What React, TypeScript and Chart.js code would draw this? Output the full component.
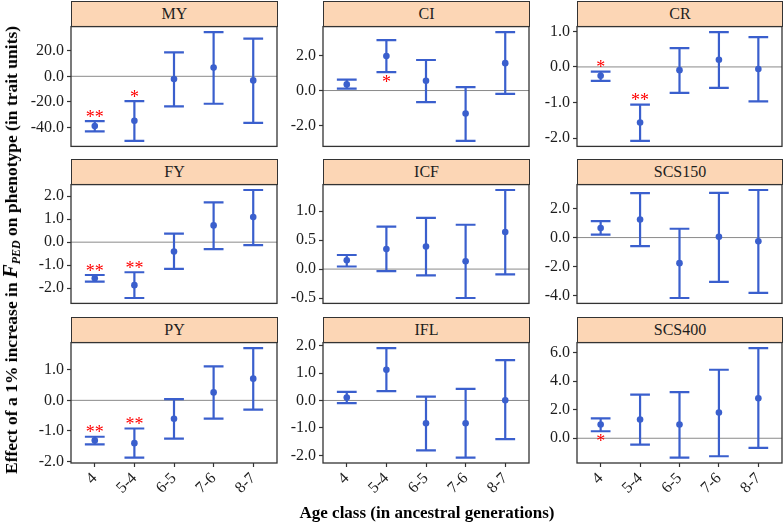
import React, { useEffect, useRef } from 'react';
import { Chart, registerables } from 'chart.js';
Chart.register(...registerables);

// ---------- data ----------
const CATEGORIES = ['4', '5-4', '6-5', '7-6', '8-7'];

const MY_EST = [-38.8, -34.7, -2.2, 6.8, -3.2];
const MY_LO = [-42.9, -50.4, -23.5, -21.4, -36.3];
const MY_HI = [-35.0, -19.4, 18.6, 34.5, 29.4];
const MY_TICKS = [-40, -20, 0, 20];
const MY_STARS = ['**', '*', '', '', ''];
const MY_SIDE = ['above', 'above', '', '', ''];

const CI_EST = [0.35, 1.97, 0.56, -1.31, 1.56];
const CI_LO = [0.11, 1.05, -0.66, -2.87, -0.19];
const CI_HI = [0.62, 2.87, 1.74, 0.19, 3.33];
const CI_TICKS = [-2, 0, 2];
const CI_STARS = ['', '*', '', '', ''];
const CI_SIDE = ['', 'below', '', '', ''];

const CR_EST = [-0.25, -1.56, -0.09, 0.2, -0.06];
const CR_LO = [-0.39, -2.08, -0.73, -0.59, -0.97];
const CR_HI = [-0.13, -1.06, 0.53, 0.98, 0.84];
const CR_TICKS = [-2, -1, 0, 1];
const CR_STARS = ['*', '**', '', '', ''];
const CR_SIDE = ['above', 'above', '', '', ''];

const FY_EST = [-1.57, -1.87, -0.41, 0.73, 1.09];
const FY_LO = [-1.72, -2.43, -1.16, -0.3, -0.13];
const FY_HI = [-1.43, -1.31, 0.37, 1.73, 2.27];
const FY_TICKS = [-2, -1, 0, 1, 2];
const FY_STARS = ['**', '**', '', '', ''];
const FY_SIDE = ['above', 'above', '', '', ''];

const ICF_EST = [0.153, 0.346, 0.392, 0.136, 0.642];
const ICF_LO = [0.045, -0.034, -0.108, -0.5, -0.091];
const ICF_HI = [0.244, 0.733, 0.886, 0.767, 1.368];
const ICF_TICKS = [-0.5, 0, 0.5, 1];
const ICF_STARS = ['', '', '', '', ''];
const ICF_SIDE = ['', '', '', '', ''];

const SCS150_EST = [0.66, 1.25, -1.77, 0.05, -0.25];
const SCS150_LO = [0.2, -0.59, -4.18, -3.07, -3.82];
const SCS150_HI = [1.14, 3.07, 0.61, 3.09, 3.29];
const SCS150_TICKS = [-4, -2, 0, 2];
const SCS150_STARS = ['', '', '', '', ''];
const SCS150_SIDE = ['', '', '', '', ''];

const PY_EST = [-1.31, -1.4, -0.6, 0.26, 0.71];
const PY_LO = [-1.44, -1.87, -1.25, -0.6, -0.3];
const PY_HI = [-1.19, -0.92, 0.04, 1.11, 1.71];
const PY_TICKS = [-2, -1, 0, 1];
const PY_STARS = ['**', '**', '', '', ''];
const PY_SIDE = ['above', 'above', '', '', ''];

const IFL_EST = [0.11, 1.12, -0.83, -0.83, 0.01];
const IFL_LO = [-0.1, 0.34, -1.82, -2.08, -1.41];
const IFL_HI = [0.31, 1.91, 0.14, 0.42, 1.47];
const IFL_TICKS = [-2, -1, 0, 1, 2];
const IFL_STARS = ['', '', '', '', ''];
const IFL_SIDE = ['', '', '', '', ''];

const SCS400_EST = [0.96, 1.31, 0.96, 1.8, 2.8];
const SCS400_LO = [0.49, -0.44, -1.35, -1.26, -0.67];
const SCS400_HI = [1.4, 3.06, 3.24, 4.8, 6.32];
const SCS400_TICKS = [0, 2, 4, 6];
const SCS400_STARS = ['*', '', '', '', ''];
const SCS400_SIDE = ['below', '', '', '', ''];

type PanelData = {
  name: string; est: number[]; lo: number[]; hi: number[];
  ticks: number[]; stars: string[]; side: string[];
};

const PANELS: PanelData[] = [
  { name: 'MY', est: MY_EST, lo: MY_LO, hi: MY_HI, ticks: MY_TICKS, stars: MY_STARS, side: MY_SIDE },
  { name: 'CI', est: CI_EST, lo: CI_LO, hi: CI_HI, ticks: CI_TICKS, stars: CI_STARS, side: CI_SIDE },
  { name: 'CR', est: CR_EST, lo: CR_LO, hi: CR_HI, ticks: CR_TICKS, stars: CR_STARS, side: CR_SIDE },
  { name: 'FY', est: FY_EST, lo: FY_LO, hi: FY_HI, ticks: FY_TICKS, stars: FY_STARS, side: FY_SIDE },
  { name: 'ICF', est: ICF_EST, lo: ICF_LO, hi: ICF_HI, ticks: ICF_TICKS, stars: ICF_STARS, side: ICF_SIDE },
  { name: 'SCS150', est: SCS150_EST, lo: SCS150_LO, hi: SCS150_HI, ticks: SCS150_TICKS, stars: SCS150_STARS, side: SCS150_SIDE },
  { name: 'PY', est: PY_EST, lo: PY_LO, hi: PY_HI, ticks: PY_TICKS, stars: PY_STARS, side: PY_SIDE },
  { name: 'IFL', est: IFL_EST, lo: IFL_LO, hi: IFL_HI, ticks: IFL_TICKS, stars: IFL_STARS, side: IFL_SIDE },
  { name: 'SCS400', est: SCS400_EST, lo: SCS400_LO, hi: SCS400_HI, ticks: SCS400_TICKS, stars: SCS400_STARS, side: SCS400_SIDE },
];

// ---------- layout / style ----------
const FONT = "'Liberation Serif', serif";
const BLUE = '#3A5FCD';
const STRIP_BG = '#FCD6B5';
const DARK = '#333333';
const ZERO = '#8a8a8a';
const TEXT = '#1e1e1e';

Chart.defaults.font.family = FONT;

const COLS = [[71, 277], [323, 529], [577, 782]];
const ROWS = [[1, 26, 147], [159, 184, 304], [317, 342, 463]];
const PAD_L = 2, Y_W = 60, PAD_R = 16, PAD_T = 12, PAD_B = 12, X_H = 50;

function makePlugin(p: PanelData) {
  return {
    id: 'errbars_' + p.name,
    beforeDatasetsDraw(chart: any) {
      const { ctx, chartArea: a, scales } = chart;
      const x = scales.x, y = scales.y;
      ctx.save();
      const y0 = y.getPixelForValue(0);
      ctx.strokeStyle = ZERO;
      ctx.lineWidth = 1;
      ctx.beginPath();
      ctx.moveTo(a.left, y0);
      ctx.lineTo(a.right, y0);
      ctx.stroke();
      ctx.strokeStyle = BLUE;
      ctx.lineWidth = 2.2;
      p.est.forEach((_, i) => {
        const px = x.getPixelForValue(i + 1);
        const cl = x.getPixelForValue(i + 1 - 0.25);
        const cr = x.getPixelForValue(i + 1 + 0.25);
        const pl = y.getPixelForValue(p.lo[i]);
        const ph = y.getPixelForValue(p.hi[i]);
        ctx.beginPath();
        ctx.moveTo(px, pl); ctx.lineTo(px, ph);
        ctx.moveTo(cl, pl); ctx.lineTo(cr, pl);
        ctx.moveTo(cl, ph); ctx.lineTo(cr, ph);
        ctx.stroke();
      });
      ctx.restore();
    },
    afterDraw(chart: any) {
      const { ctx, chartArea: a, scales } = chart;
      const x = scales.x, y = scales.y;
      ctx.save();
      ctx.strokeStyle = DARK;
      ctx.lineWidth = 1.3;
      ctx.strokeRect(a.left, a.top, a.right - a.left, a.bottom - a.top);
      ctx.fillStyle = '#FF0000';
      ctx.font = '18px ' + FONT;
      ctx.textAlign = 'center';
      ctx.textBaseline = 'alphabetic';
      p.stars.forEach((s, i) => {
        if (!s) return;
        const px = x.getPixelForValue(i + 1);
        if (p.side[i] === 'above') {
          ctx.fillText(s, px, y.getPixelForValue(p.hi[i]) + 1.5);
        } else {
          ctx.fillText(s, px, y.getPixelForValue(p.lo[i]) + 15.5);
        }
      });
      ctx.restore();
    },
  };
}

function PanelChart({ p, row, col }: { p: PanelData; row: number; col: number }) {
  const ref = useRef<HTMLCanvasElement>(null);
  const bottomRow = row === 2;
  const [x0, x1] = COLS[col];
  const [, pt, pb] = ROWS[row];
  const left = x0 - PAD_L - Y_W;
  const top = pt - PAD_T;
  const width = (x1 - x0) + PAD_L + Y_W + PAD_R;
  const height = (pb - pt) + PAD_T + (bottomRow ? X_H + 2 : PAD_B);

  useEffect(() => {
    const lo = Math.min(...p.lo), hi = Math.max(...p.hi);
    const ex = (hi - lo) * 0.05;
    const tickFont = { family: FONT, size: 16 };
    const chart = new Chart(ref.current as HTMLCanvasElement, {
      type: 'scatter',
      data: {
        datasets: [{
          data: p.est.map((v, i) => ({ x: i + 1, y: v })),
          pointRadius: 3.3,
          pointBorderWidth: 0,
          backgroundColor: BLUE,
          borderColor: BLUE,
        }],
      },
      options: {
        animation: false,
        responsive: false,
        devicePixelRatio: 1,
        layout: { padding: { left: PAD_L, right: PAD_R, top: PAD_T, bottom: bottomRow ? 2 : PAD_B } },
        plugins: { legend: { display: false }, tooltip: { enabled: false }, title: { display: false } },
        scales: {
          x: {
            type: 'linear', min: 0.4, max: 5.6, bounds: 'data', display: bottomRow,
            afterBuildTicks: (s: any) => { s.ticks = CATEGORIES.map((_, i) => ({ value: i + 1 })); },
            afterFit: (s: any) => { s.height = bottomRow ? X_H : 0; },
            ticks: {
              autoSkip: false, maxRotation: 45, minRotation: 45, padding: 2,
              font: tickFont, color: TEXT,
              callback: (v: any) => CATEGORIES[Number(v) - 1] ?? '',
            },
            grid: { drawOnChartArea: false, drawTicks: true, tickLength: 4, tickColor: DARK, tickWidth: 1.2 },
            border: { display: false },
          },
          y: {
            type: 'linear', min: lo - ex, max: hi + ex, bounds: 'data',
            afterBuildTicks: (s: any) => { s.ticks = p.ticks.map((v) => ({ value: v })); },
            afterFit: (s: any) => { s.width = Y_W; },
            ticks: {
              autoSkip: false, padding: 3, font: tickFont, color: TEXT,
              callback: (v: any) => Number(v).toFixed(1),
            },
            grid: { drawOnChartArea: false, drawTicks: true, tickLength: 4, tickColor: DARK, tickWidth: 1.2 },
            border: { display: false },
          },
        },
      } as any,
      plugins: [makePlugin(p)],
    });
    return () => chart.destroy();
  }, []);

  return (
    <canvas
      ref={ref}
      width={width}
      height={height}
      style={{ position: 'absolute', left, top, width, height }}
    />
  );
}

function Strip({ p, row, col }: { p: PanelData; row: number; col: number }) {
  const [x0, x1] = COLS[col];
  const [st, pt] = ROWS[row];
  return (
    <div
      style={{
        position: 'absolute', left: x0, top: st, width: x1 - x0 + 1, height: pt - st + 1,
        boxSizing: 'border-box', border: '1.3px solid ' + DARK, background: STRIP_BG,
        display: 'flex', alignItems: 'center', justifyContent: 'center',
        font: '16px ' + FONT, color: TEXT,
      }}
    >
      {p.name}
    </div>
  );
}

export default function App() {
  return (
    <div style={{ position: 'absolute', left: 0, top: 0, width: 784, height: 522, overflow: 'hidden', background: '#fff' }}>
      {PANELS.map((p, k) => (
        <Strip key={'s' + k} p={p} row={Math.floor(k / 3)} col={k % 3} />
      ))}
      {PANELS.map((p, k) => (
        <PanelChart key={'c' + k} p={p} row={Math.floor(k / 3)} col={k % 3} />
      ))}
      <div
        style={{
          position: 'absolute', left: 13, top: 250, transform: 'translate(-50%, -50%) rotate(-90deg)',
          whiteSpace: 'nowrap', font: 'bold 17.5px ' + FONT, color: '#000', lineHeight: '20px',
        }}
      >
        Effect of a 1% increase in <i style={{ fontSize: 20.5 }}>F</i>
        <sub style={{ fontStyle: 'italic', fontSize: 12, verticalAlign: '-3px' }}>PED</sub> on phenotype (in trait units)
      </div>
      <div
        style={{
          position: 'absolute', left: 427, top: 513, transform: 'translate(-50%, -50%)',
          whiteSpace: 'nowrap', font: 'bold 17px ' + FONT, color: '#000',
        }}
      >
        Age class (in ancestral generations)
      </div>
    </div>
  );
}
